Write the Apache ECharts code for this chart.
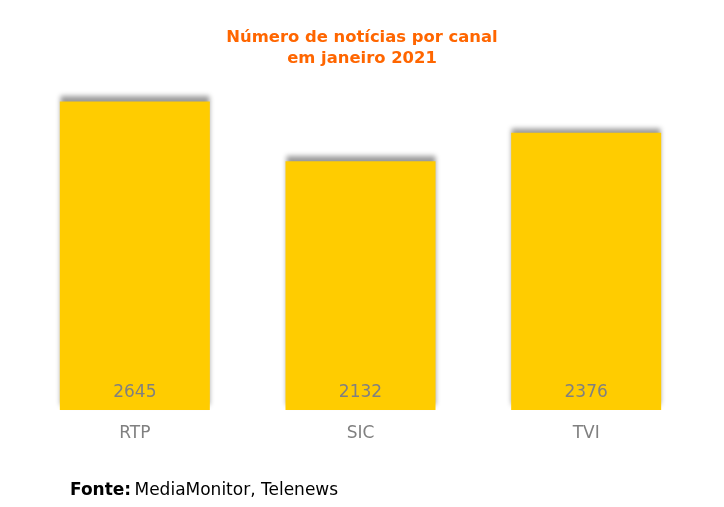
<!DOCTYPE html>
<html><head><meta charset="utf-8">
<script src="https://cdn.jsdelivr.net/npm/echarts@6/dist/echarts.min.js"></script>
<style>html,body{margin:0;padding:0;background:#fff}#c{width:724px;height:507px}</style>
</head><body><div id="c"></div>
<script>
const categories = ['RTP', 'SIC', 'TVI'];
const values = [2645, 2132, 2376];
const chart = echarts.init(document.getElementById('c'));
chart.setOption({
  animation: false,
  title: {
    text: 'Número de notícias por canal\nem janeiro 2021',
    left: 'center', top: 22,
    textStyle: { color: '#FF6600', fontFamily: 'DejaVu Sans', fontWeight: 'bold', fontSize: 16.4, lineHeight: 21 }
  },
  grid: { left: 22, right: 25, top: 60, height: 350 },
  xAxis: {
    type: 'category', data: categories,
    axisLine: { show: false }, axisTick: { show: false },
    axisLabel: { color: '#808080', fontFamily: 'DejaVu Sans', fontSize: 17, margin: 15 }
  },
  yAxis: { type: 'value', min: 0, max: 3000, show: false, splitLine: { show: false } },
  series: [{
    type: 'bar', data: values, barWidth: 150,
    itemStyle: { color: '#FFCC00', shadowColor: 'rgba(0,0,0,0.4)', shadowBlur: 5, shadowOffsetY: -5 },
    label: {
      show: true, position: 'insideBottom', distance: 9,
      color: '#808080', fontFamily: 'DejaVu Sans', fontSize: 17
    }
  }],
  graphic: [{
    type: 'text', left: 70, top: 482,
    style: {
      text: '{b|Fonte:} {r|MediaMonitor, Telenews}',
      rich: {
        b: { fontFamily: 'DejaVu Sans', fontWeight: 'bold', fontSize: 17, fill: '#000' },
        r: { fontFamily: 'DejaVu Sans', fontSize: 17, fill: '#000' }
      }
    }
  }]
});
</script></body></html>
